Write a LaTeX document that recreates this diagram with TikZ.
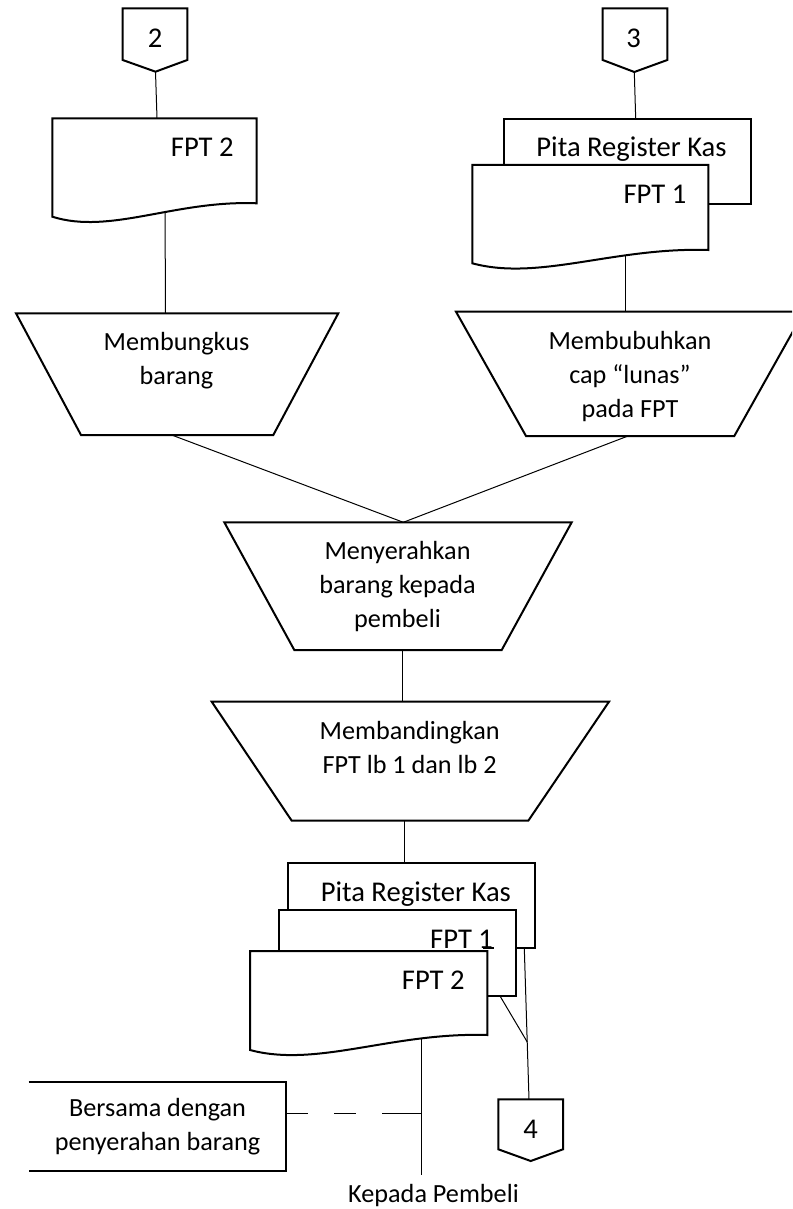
\documentclass[tikz,border=0pt]{standalone}
\usepackage{fontspec}
\setmainfont{Carlito}
\usetikzlibrary{calc,backgrounds}
\tikzset{
  outline/.style={draw=black, line width=1pt, fill=white, line join=miter},
  edge only/.style={draw=black, line width=1pt, line join=miter},
  link/.style={draw=black, line width=0.5pt},
  dashlink/.style={link, dash pattern=on 11pt off 13pt on 11pt off 13pt on 20pt off 0pt},
  proc/.style={inner sep=0pt, align=center, font=\fontsize{13.1}{17}\selectfont},
  doclabel/.style={inner sep=0pt, font=\fontsize{14.3}{17}\selectfont},
  paper/.style={outline, inner sep=0pt},
}
\begin{document}
\begin{tikzpicture}[x=0.5pt, y=-0.5pt]
\useasboundingbox (0,0) rectangle (792,1209);
\clip (0,0) rectangle (792,1209);

% ---------- off-page connector 2 and document FPT 2 ----------
\coordinate (c2tip) at (155.5,71.7);
\draw[outline] (122.7,8.3) -- (187.3,8.3) -- (187.3,60) -- (c2tip) -- (122.7,60) -- cycle;
\node[doclabel, anchor=base] (c2) at (155,47.3) {2};

\coordinate (docAtop) at (157,118.3);
\coordinate (docAbot) at (165,205);
\draw[outline] (52.3,118.3) -- (256.7,118.3) -- (256.7,203.3)
  .. controls (175,200) and (110,235) .. (52.3,216.7) -- cycle;
\node[doclabel, anchor=base east] (docAtxt) at (234,156.7) {FPT 2};

% ---------- off-page connector 3, cash register tape and FPT 1 ----------
\coordinate (c3tip) at (634.3,72);
\draw[outline] (602.7,8.3) -- (667.3,8.3) -- (667.3,60) -- (c3tip) -- (602.7,60) -- cycle;
\node[doclabel, anchor=base] (c3) at (633.7,47.3) {3};

\node[paper, minimum width=123.2pt, minimum height=42.5pt] (pitaA) at (627.5,161.5) {};
\node[doclabel, anchor=base] (pitaAtxt) at (631.5,156.7) {Pita Register Kas};
\coordinate (pitaAtop) at (635.7,119);

\coordinate (docBbot) at (625,240);
\draw[outline] (472.3,165) -- (708.3,165) -- (708.3,250)
  .. controls (614,247) and (539,281.3) .. (472.3,263.3) -- cycle;
\node[doclabel, anchor=base east] (docBtxt) at (686.7,203.3) {FPT 1};

% ---------- manual operations (text anchored at the last line's baseline) ----------
\draw[outline] (16,313.3) -- (338.3,313.3) -- (273.3,435) -- (81,435) -- cycle;
\coordinate (opAtop) at (165.5,313.3);
\coordinate (opAbot) at (171.7,435);
\node[proc, anchor=base] (opA) at (176.5,384.7) {Membungkus\\barang};

\draw[outline] (456,311.7) -- (804,311.7) -- (734.3,436) -- (526,436) -- cycle;
\coordinate (opBtop) at (625,311.7);
\coordinate (opBbot) at (628,436);
\node[proc, anchor=base] (opB) at (630,417.3) {Membubuhkan\\cap “lunas”\\pada FPT};

\draw[outline] (224.3,522.3) -- (571.7,522.3) -- (501.7,650) -- (294.3,650) -- cycle;
\coordinate (opCtop) at (403.3,522.3);
\coordinate (opCbot) at (402,650);
\node[proc, anchor=base] (opC) at (397.5,627.3) {Menyerahkan\\barang kepada\\pembeli};

\draw[outline] (211.7,701.7) -- (609,701.7) -- (528.3,820.7) -- (291.7,820.7) -- cycle;
\coordinate (opDtop) at (402,701.7);
\coordinate (opDbot) at (404,820.7);
\node[proc, anchor=base] (opD) at (409.7,773.3) {Membandingkan\\FPT lb 1 dan lb 2};

% ---------- document set: tape, FPT 1, FPT 2 ----------
\node[paper, minimum width=123.2pt, minimum height=42.5pt] (pitaB) at (411.5,905.8) {};
\node[doclabel, anchor=base] (pitaBtxt) at (415.8,901.7) {Pita Register Kas};
\coordinate (pitaBtop) at (404,863.3);
\coordinate (pitaBbot) at (524.3,948.3);

\node[paper, minimum width=118.5pt, minimum height=42.7pt] (fptB1) at (397.5,953) {};
\draw[edge only] (483,948.3) -- (494,948.3);
\node[doclabel, anchor=base east] (fptB1txt) at (493.3,948.3) {FPT 1};
\coordinate (fptB1bot) at (500,996);

\coordinate (docCbot) at (421.7,1030);
\draw[outline] (250,951) -- (487.3,951) -- (487.3,1035)
  .. controls (392.4,1032) and (317,1068) .. (250,1050) -- cycle;
\node[doclabel, anchor=base east] (docCtxt) at (465,989.3) {FPT 2};

% ---------- off-page connector 4 ----------
\coordinate (c4top) at (529,1099.3);
\coordinate (c4tip) at (530.7,1161);
\draw[outline] (498.3,1099.3) -- (563,1099.3) -- (563,1149.3) -- (c4tip) -- (498.3,1149.3) -- cycle;
\node[doclabel, anchor=base] (c4) at (530.7,1138.3) {4};

% ---------- note and destination ----------
\node[proc, minimum width=128.5pt, minimum height=44pt] (note) at (157.5,1126.7)
  {Bersama dengan\\penyerahan barang};
\draw[edge only] (note.north west) -- (note.north east) -- (note.south east) -- (note.south west);
\coordinate (noteR) at ($(note.east)+(0,-13.4)$);

\node[proc, anchor=base] (buyer) at (433.5,1202) {Kepada Pembeli};
\coordinate (buyerEnd) at (421.7,1175);

% ---------- flow lines ----------
\begin{pgfonlayer}{background}
\draw[link] (c2tip) -- (docAtop);
\draw[link] (docAbot) -- (opAtop);
\draw[link] (c3tip) -- (pitaAtop);
\draw[link] (docBbot) -- (opBtop);
\draw[link] (opAbot) -- (opCtop);
\draw[link] (opBbot) -- (opCtop);
\draw[link] (opCbot) -- (opDtop);
\draw[link] (opDbot) -- (pitaBtop);
\draw[link] (pitaBbot) -- coordinate[pos=0.62] (join4) (c4top);
\draw[link] (fptB1bot) -- (join4);
\draw[link] (docCbot) -- (buyerEnd);
\draw[dashlink] (noteR) -- (noteR -| buyerEnd);
\end{pgfonlayer}
\end{tikzpicture}
\end{document}
